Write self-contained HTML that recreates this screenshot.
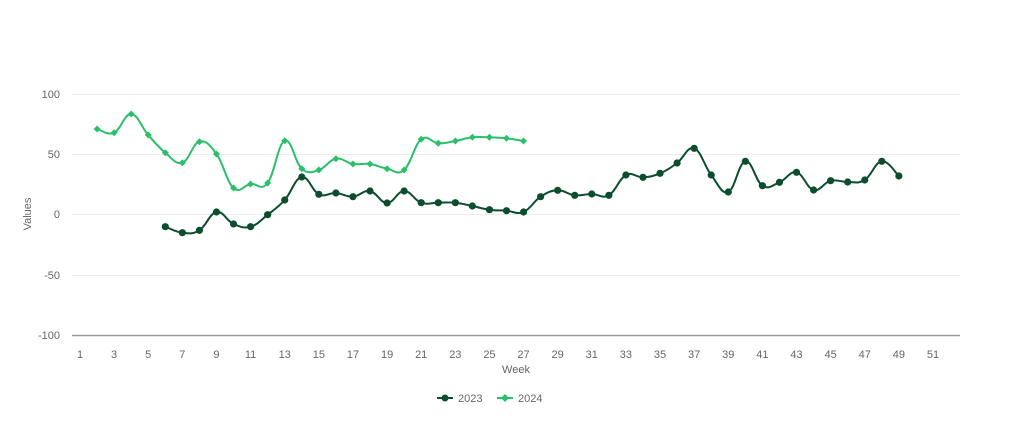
<!DOCTYPE html>
<html><head><style>
body{margin:0;background:#fff;}
svg text{font-family:"Liberation Sans",sans-serif;fill:#666;font-size:11px;}
</style></head><body>
<svg id="s" width="1024" height="432" xmlns="http://www.w3.org/2000/svg">
<g stroke="#ececec" stroke-width="1">
<line x1="72" x2="960" y1="94.5" y2="94.5"/>
<line x1="72" x2="960" y1="154.5" y2="154.5"/>
<line x1="72" x2="960" y1="214.5" y2="214.5"/>
<line x1="72" x2="960" y1="275.5" y2="275.5"/>
</g>
<line x1="72" x2="960" y1="335.5" y2="335.5" stroke="#999" stroke-width="1.5"/>
<g text-anchor="end">
<text x="60" y="98">100</text><text x="60" y="158">50</text><text x="60" y="218">0</text><text x="60" y="279">-50</text><text x="60" y="339">-100</text>
</g>
<text x="31" y="214" text-anchor="middle" transform="rotate(-90 31 214)" font-size="10">Values</text>
<text x="516" y="373" text-anchor="middle" font-size="10">Week</text>
<g id="xt" text-anchor="middle"></g>
<g id="series"></g>
<line x1="437" x2="453" y1="398" y2="398" stroke="#0b4d2c" stroke-width="2"/>
<circle cx="445" cy="398" r="3.5" fill="#0b4d2c"/>
<text x="458" y="402" fill="#444">2023</text>
<line x1="497" x2="513" y1="398" y2="398" stroke="#2bbf6a" stroke-width="2"/>
<path d="M505 394 L509 398 L505 402 L501 398Z" fill="#2bbf6a"/>
<text x="518" y="402" fill="#444">2024</text>
</svg>
<script>
const X=w=>80+(w-1)*17.06;
let xt='';for(let w=1;w<=51;w+=2)xt+=`<text x="${X(w)}" y="358">${w}</text>`;
document.getElementById('xt').innerHTML=xt;
const g24=[129,132.7,114,135,152.7,162.7,141.7,154,188,184,183,140.7,168.7,170,158.7,164,164,168.7,170,139.3,143.3,141,137.3,137.3,138.3,141];
const d23=[226.7,232.7,230.3,212,224,226.7,214.7,200,177,194.3,193,196.7,191,203,191,202.7,202.7,202.7,206,209.7,210.7,212,196.7,190.3,195.3,194,195.3,175,177.3,173.3,163,148.3,175,192,161.3,185.7,182.3,172.3,190,180.7,182,180,161.3,176];
function path(pts){let d=`M${pts[0][0]},${pts[0][1]}`;const t=0.2;
for(let i=0;i<pts.length-1;i++){const p0=pts[i-1]||pts[i],p1=pts[i],p2=pts[i+1],p3=pts[i+2]||p2;
d+=` C${p1[0]+(p2[0]-p0[0])*t},${p1[1]+(p2[1]-p0[1])*t} ${p2[0]-(p3[0]-p1[0])*t},${p2[1]-(p3[1]-p1[1])*t} ${p2[0]},${p2[1]}`;}return d;}
const a=g24.map((y,i)=>[X(i+2),y]),b=d23.map((y,i)=>[X(i+6),y]);
let h=`<path d="${path(a)}" fill="none" stroke="#2bbf6a" stroke-width="2"/>`;
a.forEach(p=>h+=`<path d="M${p[0]} ${p[1]-3.5}L${p[0]+3.5} ${p[1]}L${p[0]} ${p[1]+3.5}L${p[0]-3.5} ${p[1]}Z" fill="#2bbf6a"/>`);
h+=`<path d="${path(b)}" fill="none" stroke="#0b4d2c" stroke-width="2"/>`;
b.forEach(p=>h+=`<circle cx="${p[0]}" cy="${p[1]}" r="3.6" fill="#0b4d2c"/>`);
document.getElementById('series').innerHTML=h;
</script>
</body></html>
